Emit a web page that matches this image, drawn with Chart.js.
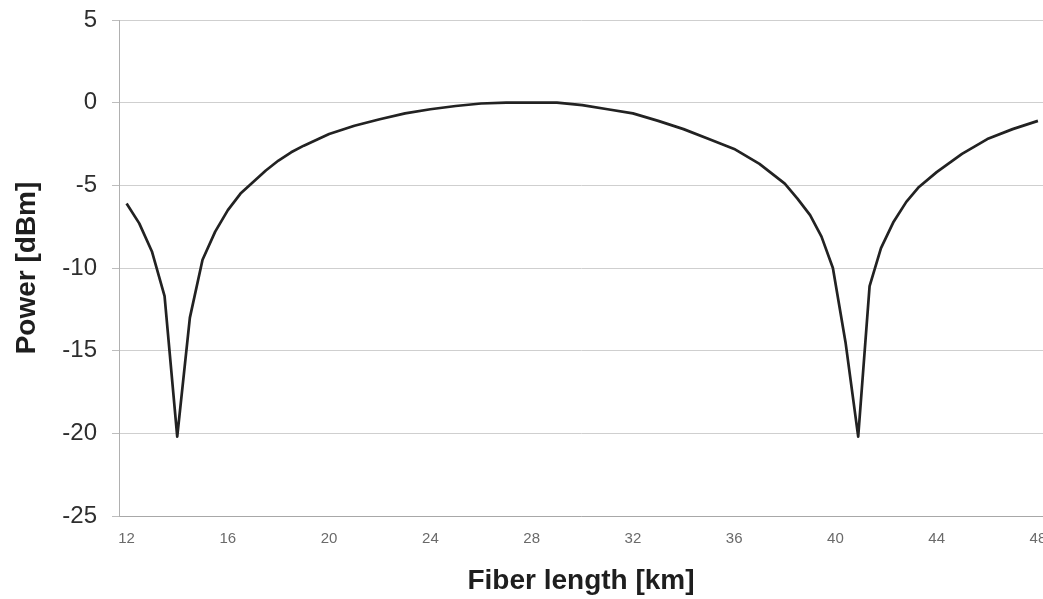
<!DOCTYPE html>
<html>
<head>
<meta charset="utf-8">
<script src="https://cdn.jsdelivr.net/npm/chart.js@4.4.1/dist/chart.umd.min.js"></script>
<style>
  html, body { margin: 0; padding: 0; background: #fff; }
  #wrap { width: 1043px; height: 599px; position: relative; }
</style>
</head>
<body>
<div id="wrap"><canvas id="c" width="1043" height="599"></canvas></div>
<script>
const fiberKm = [12, 12.5, 13, 13.5, 14, 14.5, 15, 15.5, 16, 16.5, 17, 17.5, 18, 18.5, 19, 20, 21, 22, 23, 24, 25, 26, 27, 28, 29, 30, 31, 32, 33, 34, 35, 36, 37, 38, 38.5, 39, 39.45, 39.9, 40.4, 40.9, 41.35, 41.8, 42.3, 42.8, 43.3, 44, 45, 46, 47, 48];
const powerDbm = [-6.1, -7.3, -9.0, -11.7, -20.2, -13.0, -9.5, -7.8, -6.5, -5.5, -4.8, -4.1, -3.5, -3.0, -2.6, -1.9, -1.4, -1.0, -0.65, -0.4, -0.2, -0.05, 0, 0, 0, -0.15, -0.4, -0.65, -1.1, -1.6, -2.2, -2.8, -3.7, -4.9, -5.8, -6.8, -8.1, -10.0, -14.5, -20.2, -11.1, -8.8, -7.2, -6.0, -5.1, -4.2, -3.1, -2.2, -1.6, -1.1];
const xTicks = [12, 16, 20, 24, 28, 32, 36, 40, 44, 48];
const yTicks = [-25, -20, -15, -10, -5, 0, 5];
const xTitle = 'Fiber length [km]';
const yTitle = 'Power [dBm]';

const points = fiberKm.map((x, i) => ({ x: x, y: powerDbm[i] }));
const FONT = "'Liberation Sans', Arial, sans-serif";

function noPad(s) { s.paddingLeft = 0; s.paddingRight = 0; s.paddingTop = 0; s.paddingBottom = 0; }

new Chart(document.getElementById('c'), {
  type: 'line',
  data: {
    datasets: [{
      data: points,
      borderColor: '#222222',
      borderWidth: 2.7,
      borderJoinStyle: 'round',
      pointRadius: 0,
      tension: 0,
      fill: false
    }]
  },
  options: {
    responsive: false,
    animation: false,
    devicePixelRatio: 1,
    layout: { padding: { left: 0, right: 0, top: 20, bottom: 0 }, autoPadding: false },
    plugins: { legend: { display: false }, tooltip: { enabled: false } },
    scales: {
      x: {
        type: 'linear',
        min: 11.7,
        max: 48.2,
        afterBuildTicks: s => { s.ticks = xTicks.map(v => ({ value: v })); },
        afterFit: s => { s.height = 83; noPad(s); },
        grid: { display: false, drawTicks: false },
        border: { display: true, color: '#a8a8a8', width: 1 },
        ticks: {
          padding: 14,
          color: '#6a6a6a',
          font: { family: FONT, size: 15 },
          maxRotation: 0,
          autoSkip: false
        },
        title: {
          display: true,
          text: xTitle,
          color: '#1e1e1e',
          font: { family: FONT, size: 28, weight: 'bold', lineHeight: 1.2 },
          padding: { top: 0, bottom: 1 }
        }
      },
      y: {
        type: 'linear',
        min: -25,
        max: 5,
        afterBuildTicks: s => { s.ticks = yTicks.map(v => ({ value: v })); },
        afterFit: s => { s.width = 119; noPad(s); },
        grid: { color: '#cfcfcf', lineWidth: 1, drawTicks: true, tickLength: 7, tickColor: '#bdbdbd' },
        border: { display: true, color: '#b0b0b0', width: 1 },
        ticks: {
          padding: 15,
          color: '#2e2e2e',
          font: { family: FONT, size: 24 }
        },
        title: {
          display: true,
          text: yTitle,
          color: '#1e1e1e',
          font: { family: FONT, size: 28, weight: 'bold', lineHeight: 1.2 },
          padding: { top: 10, bottom: 0 }
        }
      }
    }
  }
});
</script>
</body>
</html>
